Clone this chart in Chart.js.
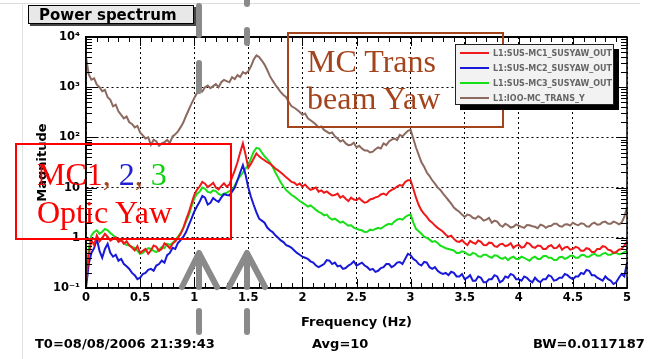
<!DOCTYPE html>
<html>
<head>
<meta charset="utf-8">
<script src="https://cdn.jsdelivr.net/npm/chart.js@4.4.0/dist/chart.umd.min.js"></script>
<style>
  html, body { margin: 0; padding: 0; background: #fff; }
  #wrap { position: relative; width: 652px; height: 359px; overflow: hidden; font-family: "DejaVu Sans", sans-serif; }
  #wrap canvas { position: absolute; left: 0; top: 0; }
  .abs { position: absolute; white-space: nowrap; }
  #topline { left: 0; top: 3px; width: 640px; height: 1px; background: #dcdcdc; }
  #sideline { left: 22px; top: 3px; width: 1px; height: 356px; background: #e2e2e2; }
  #ptitle { left: 28px; top: 5px; width: 166px; height: 19px; background: #e8e8e8; border: 1px solid #000;
            box-shadow: 2px 2px 0 #444; font-weight: bold; font-size: 15px; line-height: 18px; padding-left: 10px; box-sizing: border-box; }
  .foot { font-weight: bold; font-size: 13px; top: 336px; }
  #legend { left: 455px; top: 44px; width: 159px; height: 61px; background: #f2f2f2; border: 1px solid #222;
            box-shadow: 5px 5px 0 #000; box-sizing: border-box; padding-top: 1px; }
  #legend .row { height: 15px; line-height: 15px; font-size: 8px; font-weight: bold; color: #666; }
  #legend .sw { display: inline-block; width: 29px; height: 2px; margin: 0 4px 2px 4px; vertical-align: middle; }
  .box { position: absolute; box-sizing: border-box; }
  #redbox { left: 15px; top: 143px; width: 217px; height: 97px; border: 2px solid #ff0000; }
  #brownbox { left: 287px; top: 32px; width: 217px; height: 96px; border: 2px solid #a3441c; }
  .serif { font-family: "Liberation Serif", serif; font-size: 32px; line-height: 38px; }
</style>
</head>
<body>
<div id="wrap">
  <div class="abs" id="topline"></div>
  <div class="abs" id="sideline"></div>
  <canvas id="chart" width="652" height="359"></canvas>
  <div class="abs" id="ptitle">Power spectrum</div>
  <div class="box" id="redbox"></div>
  <div class="abs serif" style="left:37px; top:155px; color:#ff0000;">MC1<span style="color:#a3441c">, </span><span style="color:#2020d0">2</span><span style="color:#a3441c">, </span><span style="color:#10d010">3</span><br>Optic Yaw</div>
  <div class="box" id="brownbox"></div>
  <div class="abs serif" style="left:307px; top:43px; color:#a3441c; line-height:37px;">MC Trans<br>beam Yaw</div>
  <div class="abs" id="legend"></div>
  <svg class="abs" style="left:0; top:0;" width="652" height="359">
    <g stroke="#8a8a8a" stroke-width="6" fill="none" stroke-linecap="round" stroke-linejoin="round">
      <line x1="199" y1="6" x2="199" y2="35"/>
      <line x1="199" y1="63" x2="199" y2="91"/>
      <line x1="199" y1="311" x2="199" y2="332"/>
      <line x1="247" y1="0" x2="247" y2="4"/>
      <line x1="247" y1="30" x2="247" y2="43"/>
      <line x1="247" y1="311" x2="247" y2="332"/>
      <polyline points="182,287 199,253 217,287"/>
      <line x1="199" y1="262" x2="199" y2="287"/>
      <polyline points="229,287 247,253 265,287"/>
      <line x1="247" y1="262" x2="247" y2="287"/>
    </g>
  </svg>
  <div class="abs foot" style="left:35px;">T0=08/08/2006 21:39:43</div>
  <div class="abs foot" style="left:312px;">Avg=10</div>
  <div class="abs foot" style="left:533px;">BW=0.0117187</div>
</div>
<script>
// frequency bins (Hz)
const freq = [
  0, 0.025, 0.05, 0.075, 0.1, 0.125, 0.15, 0.175, 0.2, 0.225,
  0.25, 0.275, 0.3, 0.325, 0.35, 0.375, 0.4, 0.425, 0.45, 0.475,
  0.5, 0.525, 0.55, 0.575, 0.6, 0.625, 0.65, 0.675, 0.7, 0.725,
  0.75, 0.775, 0.8, 0.825, 0.85, 0.875, 0.9, 0.925, 0.95, 0.975,
  1, 1.025, 1.05, 1.075, 1.1, 1.125, 1.15, 1.175, 1.2, 1.225,
  1.25, 1.275, 1.3, 1.325, 1.35, 1.375, 1.4, 1.425, 1.45, 1.475,
  1.5, 1.525, 1.55, 1.575, 1.6, 1.625, 1.65, 1.675, 1.7, 1.725,
  1.75, 1.775, 1.8, 1.825, 1.85, 1.875, 1.9, 1.925, 1.95, 1.975,
  2, 2.025, 2.05, 2.075, 2.1, 2.125, 2.15, 2.175, 2.2, 2.225,
  2.25, 2.275, 2.3, 2.325, 2.35, 2.375, 2.4, 2.425, 2.45, 2.475,
  2.5, 2.525, 2.55, 2.575, 2.6, 2.625, 2.65, 2.675, 2.7, 2.725,
  2.75, 2.775, 2.8, 2.825, 2.85, 2.875, 2.9, 2.925, 2.95, 2.975,
  3, 3.025, 3.05, 3.075, 3.1, 3.125, 3.15, 3.175, 3.2, 3.225,
  3.25, 3.275, 3.3, 3.325, 3.35, 3.375, 3.4, 3.425, 3.45, 3.475,
  3.5, 3.525, 3.55, 3.575, 3.6, 3.625, 3.65, 3.675, 3.7, 3.725,
  3.75, 3.775, 3.8, 3.825, 3.85, 3.875, 3.9, 3.925, 3.95, 3.975,
  4, 4.025, 4.05, 4.075, 4.1, 4.125, 4.15, 4.175, 4.2, 4.225,
  4.25, 4.275, 4.3, 4.325, 4.35, 4.375, 4.4, 4.425, 4.45, 4.475,
  4.5, 4.525, 4.55, 4.575, 4.6, 4.625, 4.65, 4.675, 4.7, 4.725,
  4.75, 4.775, 4.8, 4.825, 4.85, 4.875, 4.9, 4.925, 4.95, 4.975,
  5
];

const mc1Yaw = [
  0.126, 0.45, 0.89, 0.72, 1.12, 0.85, 1.0, 1.2, 1.05, 0.88,
  0.95, 1.02, 0.83, 0.9, 0.76, 0.85, 0.71, 0.64, 0.56, 0.68,
  0.5, 0.55, 0.6, 0.48, 0.56, 0.7, 0.66, 0.55, 0.6, 0.78,
  0.71, 0.62, 0.76, 0.85, 1.0, 1.2, 1.58, 2.3, 3.2, 4.8,
  7.1, 9.0, 10.5, 13, 12, 10.2, 11.2, 12.5, 10, 9.2,
  10.7, 12.2, 10.5, 11.5, 16, 22, 32, 50, 76, 45,
  25, 30, 38, 48, 42, 38, 35, 32, 30, 27,
  24, 22, 20, 18, 16, 14.5, 13, 12.5, 11.2, 12,
  10.5, 11.5, 10, 9, 9.5, 10, 8.3, 8.8, 7.9, 8.4,
  7.6, 7.0, 7.1, 7.6, 6.3, 6.8, 6.0, 5.4, 6.3, 5.8,
  5.6, 6.2, 5.5, 5.0, 5.2, 5.8, 6.0, 6.4, 6.6, 7.3,
  7.6, 7.1, 8.3, 9.0, 9.5, 10.5, 11.2, 10.8, 13, 14,
  14, 9.5, 6.3, 4.5, 3.5, 3.0, 2.6, 2.2, 2.0, 1.75,
  1.58, 1.45, 1.32, 1.15, 1.05, 1.1, 0.95, 0.85, 0.83, 0.9,
  0.79, 0.72, 0.87, 0.8, 0.76, 0.88, 0.83, 0.72, 0.71, 0.8,
  0.79, 0.68, 0.66, 0.74, 0.76, 0.68, 0.71, 0.78, 0.63, 0.7,
  0.72, 0.64, 0.66, 0.8, 0.76, 0.66, 0.63, 0.7, 0.69, 0.6,
  0.6, 0.68, 0.71, 0.62, 0.63, 0.72, 0.58, 0.64, 0.66, 0.58,
  0.6, 0.66, 0.63, 0.55, 0.55, 0.62, 0.6, 0.52, 0.52, 0.6,
  0.6, 0.68, 0.66, 0.58, 0.56, 0.5, 0.52, 0.58, 0.6, 0.7,
  0.83
];

const mc2Yaw = [
  0.1, 0.3, 0.5, 0.62, 0.95, 0.55, 0.4, 0.6, 0.76, 0.5,
  0.42, 0.46, 0.35, 0.38, 0.3, 0.27, 0.24, 0.2, 0.18, 0.15,
  0.16, 0.19, 0.2, 0.23, 0.24, 0.22, 0.28, 0.3, 0.35, 0.32,
  0.45, 0.5, 0.63, 0.6, 0.79, 0.9, 1.05, 1.3, 1.78, 2.4,
  3.3, 4.2, 5.2, 6.8, 6.3, 4.6, 5.0, 6.2, 5.6, 5.2,
  6.3, 7.4, 7.1, 7.0, 8.3, 10, 14, 20, 28, 18,
  10, 6.5, 4.5, 3.2, 2.4, 2.2, 2.0, 1.6, 1.41, 1.3,
  1.12, 1.0, 0.89, 0.82, 0.71, 0.68, 0.63, 0.56, 0.5, 0.46,
  0.42, 0.4, 0.38, 0.34, 0.32, 0.28, 0.26, 0.28, 0.3, 0.36,
  0.35, 0.3, 0.32, 0.27, 0.28, 0.24, 0.25, 0.28, 0.3, 0.34,
  0.28, 0.3, 0.32, 0.28, 0.26, 0.23, 0.24, 0.21, 0.22, 0.25,
  0.26, 0.3, 0.3, 0.26, 0.28, 0.32, 0.33, 0.3, 0.38, 0.48,
  0.45, 0.38, 0.35, 0.3, 0.28, 0.33, 0.32, 0.26, 0.24, 0.26,
  0.22, 0.2, 0.19, 0.2, 0.18, 0.21, 0.2, 0.17, 0.17, 0.19,
  0.15, 0.16, 0.18, 0.14, 0.14, 0.17, 0.16, 0.13, 0.13, 0.15,
  0.15, 0.18, 0.17, 0.13, 0.14, 0.17, 0.16, 0.19, 0.18, 0.15,
  0.15, 0.14, 0.17, 0.16, 0.14, 0.13, 0.16, 0.14, 0.13, 0.15,
  0.15, 0.18, 0.17, 0.14, 0.145, 0.16, 0.16, 0.19, 0.18, 0.16,
  0.15, 0.17, 0.17, 0.2, 0.19, 0.23, 0.22, 0.18, 0.18, 0.16,
  0.15, 0.14, 0.17, 0.15, 0.14, 0.12, 0.13, 0.16, 0.19, 0.17,
  0.32
];

const mc3Yaw = [
  0.14, 0.6, 1.12, 1.3, 1.41, 1.2, 1.32, 1.5, 1.41, 1.25,
  1.12, 1.0, 0.89, 0.95, 0.79, 0.72, 0.71, 0.66, 0.63, 0.55,
  0.48, 0.5, 0.56, 0.62, 0.6, 0.55, 0.52, 0.58, 0.66, 0.62,
  0.76, 0.72, 0.79, 0.9, 1.05, 1.25, 1.58, 2.1, 2.8, 4.2,
  6.0, 7.5, 8.3, 10, 9.5, 8.2, 7.9, 8.8, 8.5, 7.5,
  7.1, 7.6, 7.9, 8.5, 8.9, 11, 14, 17, 20, 24,
  28, 38, 52, 62, 60, 50, 42, 37, 32, 26,
  20, 16, 12.6, 10.5, 8.9, 8.0, 7.1, 6.6, 6.0, 5.4,
  5.0, 4.6, 4.2, 4.4, 4.0, 3.6, 3.3, 3.1, 2.8, 2.9,
  2.5, 2.3, 2.4, 2.2, 2.0, 2.1, 1.9, 1.75, 1.78, 1.6,
  1.51, 1.45, 1.41, 1.3, 1.32, 1.45, 1.41, 1.5, 1.58, 1.52,
  1.66, 1.8, 1.9, 1.85, 2.1, 2.3, 2.4, 2.3, 2.6, 2.8,
  2.9, 2.0, 1.51, 1.35, 1.2, 1.05, 1.0, 0.92, 0.83, 0.86,
  0.79, 0.7, 0.66, 0.62, 0.6, 0.58, 0.56, 0.5, 0.5, 0.54,
  0.52, 0.47, 0.45, 0.5, 0.48, 0.43, 0.42, 0.46, 0.46, 0.42,
  0.4, 0.45, 0.44, 0.4, 0.38, 0.41, 0.36, 0.4, 0.42, 0.38,
  0.38, 0.42, 0.4, 0.37, 0.35, 0.4, 0.42, 0.38, 0.38, 0.43,
  0.44, 0.4, 0.4, 0.36, 0.36, 0.41, 0.42, 0.38, 0.4, 0.44,
  0.44, 0.4, 0.4, 0.45, 0.46, 0.42, 0.42, 0.46, 0.48, 0.44,
  0.44, 0.48, 0.5, 0.46, 0.46, 0.5, 0.5, 0.47, 0.48, 0.52,
  0.55
];

const mcTransY = [
  4000, 1800, 1410, 1500, 1120, 1000, 830, 880, 630, 560,
  417, 450, 331, 280, 240, 260, 200, 185, 158, 170,
  126, 110, 95, 100, 71, 90, 83, 68, 76, 80,
  89, 78, 105, 115, 132, 160, 200, 270, 355, 470,
  603, 760, 871, 820, 1000, 1080, 955, 1050, 1150, 1000,
  1260, 1400, 1320, 1250, 1580, 1450, 1740, 1600, 2000, 1850,
  2090, 2600, 3550, 4300, 3980, 3400, 2820, 2200, 1660, 1350,
  1120, 950, 794, 700, 631, 500, 417, 390, 355, 320,
  282, 300, 240, 220, 200, 180, 158, 165, 141, 130,
  120, 125, 105, 95, 83, 88, 76, 70, 71, 78,
  63, 68, 60, 55, 55, 50, 52, 58, 63, 60,
  76, 70, 83, 90, 95, 88, 112, 105, 120, 135,
  141, 95, 63, 45, 32, 26, 20, 17, 14, 12,
  10, 9, 7.6, 6.5, 5.6, 4.8, 4.0, 3.6, 3.3, 2.9,
  2.6, 2.9, 2.8, 2.5, 2.4, 2.7, 2.5, 2.2, 2.3, 2.5,
  2.0, 2.2, 2.1, 1.8, 1.66, 1.9, 1.78, 1.6, 1.66, 1.85,
  1.74, 1.65, 1.58, 1.8, 1.78, 1.7, 1.66, 1.55, 1.82, 1.75,
  1.58, 1.7, 1.74, 1.9, 1.9, 1.72, 1.66, 1.85, 1.86, 1.75,
  2.0, 1.85, 1.78, 1.95, 1.9, 1.7, 1.66, 1.9, 2.0, 1.82,
  1.86, 2.05, 2.1, 1.9, 1.9, 2.1, 2.0, 1.85, 2.0, 2.6,
  4.0
];

const seriesNames = ['L1:SUS-MC1_SUSYAW_OUT', 'L1:SUS-MC2_SUSYAW_OUT', 'L1:SUS-MC3_SUSYAW_OUT', 'L1:IOO-MC_TRANS_Y'];
const seriesColors = ['#f01818', '#1818d8', '#18e018', '#8c6a60'];

const xTicks = [0, 0.5, 1, 1.5, 2, 2.5, 3, 3.5, 4, 4.5, 5];
const xTickLabels = ['0', '0.5', '1', '1.5', '2', '2.5', '3', '3.5', '4', '4.5', '5'];
const yTicks = [0.1, 1, 10, 100, 1000, 10000];
const yTickLabels = ['10\u207B\u00B9', '1', '10', '10\u00B2', '10\u00B3', '10\u2074'];

const toPoints = (vals) => freq.map((f, i) => ({ x: f, y: vals[i] }));
const tickFont = { family: 'DejaVu Sans', weight: 'bold', size: 11.5 };
const titleFont = { family: 'DejaVu Sans', weight: 'bold', size: 13 };

// ROOT style inward ticks and frame
const rootAxes = {
  id: 'rootAxes',
  afterDraw(chart) {
    const { ctx, chartArea: a, scales: { x, y } } = chart;
    const seg = (x1, y1, x2, y2) => { ctx.beginPath(); ctx.moveTo(x1, y1); ctx.lineTo(x2, y2); ctx.stroke(); };
    ctx.save();
    ctx.strokeStyle = '#000';
    ctx.lineWidth = 1;
    for (let i = 0; i <= 50; i++) {
      const px = Math.round(x.getPixelForValue(i / 10)) + 0.5;
      const len = i % 5 === 0 ? 9 : 5;
      seg(px, a.bottom, px, a.bottom - len);
      seg(px, a.top, px, a.top + len);
    }
    for (let d = -1; d < 4; d++) {
      for (let m = 1; m < 10; m++) {
        const py = Math.round(y.getPixelForValue(m * Math.pow(10, d))) + 0.5;
        const len = m === 1 ? 11 : 6;
        seg(a.left, py, a.left + len, py);
        seg(a.right, py, a.right - len, py);
      }
    }
    ctx.lineWidth = 1.5;
    ctx.strokeRect(a.left, a.top, a.right - a.left, a.bottom - a.top);
    ctx.lineWidth = 2;
    seg(a.left, a.top, a.right, a.top);
    ctx.restore();
  }
};

const chart = new Chart(document.getElementById('chart'), {
  type: 'line',
  data: {
    datasets: [mc1Yaw, mc2Yaw, mc3Yaw, mcTransY].map((vals, i) => ({
      label: seriesNames[i],
      data: toPoints(vals),
      borderColor: seriesColors[i],
      backgroundColor: seriesColors[i],
      borderWidth: 2,
      pointRadius: 0,
      tension: 0,
      fill: false
    }))
  },
  options: {
    responsive: false,
    animation: false,
    devicePixelRatio: 1,
    layout: { padding: { top: 37, right: 25, left: 0, bottom: 0 } },
    plugins: { legend: { display: false }, tooltip: { enabled: false } },
    scales: {
      x: {
        type: 'linear', min: 0, max: 5,
        afterFit: (s) => { s.height = 71; },
        afterBuildTicks: (s) => { s.ticks = xTicks.map(v => ({ value: v })); },
        ticks: { callback: (v, i) => xTickLabels[i], font: tickFont, color: '#000', padding: 3, maxRotation: 0, autoSkip: false },
        grid: { color: '#000', lineWidth: 1, drawTicks: false },
        border: { display: true, color: '#000', width: 1.5, dash: [2, 3] },
        title: { display: true, text: 'Frequency (Hz)', font: titleFont, color: '#000', padding: { top: 0, bottom: 29 } }
      },
      y: {
        type: 'logarithmic', min: 0.1, max: 10000,
        afterFit: (s) => { s.width = 86; },
        afterBuildTicks: (s) => { s.ticks = yTicks.map(v => ({ value: v })); },
        ticks: { callback: (v, i) => yTickLabels[i], font: tickFont, color: '#000', padding: 6, autoSkip: false },
        grid: { color: '#000', lineWidth: 1, drawTicks: false },
        border: { display: true, color: '#000', width: 1.5, dash: [2, 3] },
        title: { display: true, text: 'Magnitude', font: titleFont, color: '#000', padding: { top: 35, bottom: 0 } }
      }
    }
  },
  plugins: [rootAxes]
});

// legend box built from the datasets
const legendBox = document.getElementById('legend');
chart.data.datasets.forEach(ds => {
  const row = document.createElement('div');
  row.className = 'row';
  const sw = document.createElement('span');
  sw.className = 'sw';
  sw.style.background = ds.borderColor;
  row.appendChild(sw);
  row.appendChild(document.createTextNode(ds.label));
  legendBox.appendChild(row);
});
</script>
</body>
</html>
